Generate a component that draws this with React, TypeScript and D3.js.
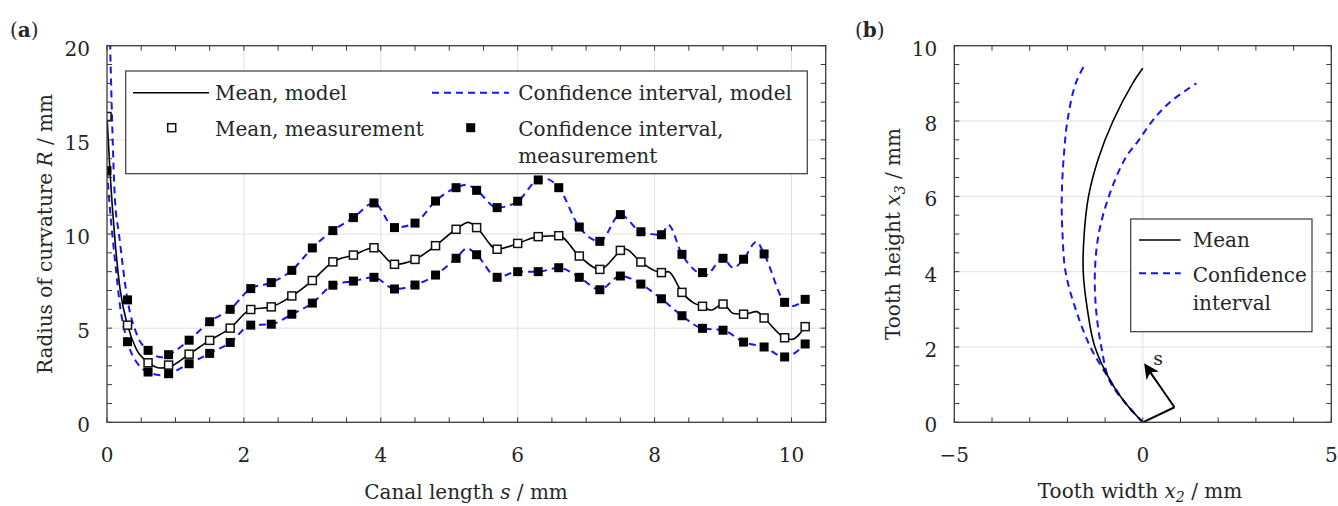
import React from 'react';
import * as d3 from 'd3';

const FONT = '"DejaVu Serif", serif';
const BLUE = '#1414ff';
const INK = '#262626';
const FRAME = '#3a3a3a';
const GRID = '#e0e0e0';

// (a) measurement positions along the canal, mm
const measS = [0, 0.3, 0.6, 0.9, 1.2, 1.5, 1.8, 2.1, 2.4, 2.7, 3.0, 3.3, 3.6, 3.9, 4.2, 4.5, 4.8,
  5.1, 5.4, 5.7, 6.0, 6.3, 6.6, 6.9, 7.2, 7.5, 7.8, 8.1, 8.4, 8.7, 9.0, 9.3, 9.6, 9.9, 10.2];
const measMean = [16.24, 5.16, 3.16, 3.04, 3.62, 4.35, 5.0, 5.99, 6.13, 6.71, 7.53, 8.52, 8.88, 9.27,
  8.39, 8.65, 9.38, 10.25, 10.34, 9.19, 9.5, 9.86, 9.91, 8.83, 8.12, 9.13, 8.51, 7.95, 6.9, 6.16,
  6.28, 5.74, 5.54, 4.49, 5.08];
const measUpper = [null, 6.5, 3.82, 3.59, 4.36, 5.34, 6.0, 7.1, 7.42, 8.07, 9.26, 10.18, 10.87, 11.65,
  10.34, 10.58, 11.75, 12.46, 12.32, 11.4, 11.74, 12.87, 12.46, 10.37, 9.61, 11.03, 10.12, 9.96,
  8.92, 7.95, 8.71, 8.66, 8.94, 6.37, 6.53];
const measLower = [13.36, 4.28, 2.67, 2.58, 3.11, 3.66, 4.24, 5.16, 5.21, 5.74, 6.33, 7.28, 7.5, 7.7,
  7.08, 7.29, 7.82, 8.71, 8.9, 7.7, 8.0, 8.0, 8.21, 7.7, 7.04, 7.77, 7.34, 6.56, 5.66, 4.99, 4.89,
  4.26, 4.0, 3.47, 4.16];

// (a) model curves
const meanModelS = [0, 0.044, 0.117, 0.19, 0.3, 0.43, 0.6, 0.78, 0.9, 1.2, 1.5, 1.8, 2.1, 2.4, 2.7,
  3.0, 3.3, 3.6, 3.9, 4.2, 4.5, 4.8, 5.1, 5.28, 5.4, 5.7, 6.0, 6.3, 6.6, 6.9, 7.2, 7.57, 7.8, 8.1,
  8.2, 8.4, 8.59, 8.7, 8.82, 9.0, 9.15, 9.3, 9.49, 9.6, 9.9, 10.0, 10.2];
const meanModelR = [16.24, 13.3, 9.66, 7.1, 5.16, 3.87, 3.2, 2.88, 2.93, 3.62, 4.35, 5.0, 5.99, 6.13,
  6.71, 7.53, 8.52, 8.88, 9.27, 8.39, 8.65, 9.38, 10.25, 10.62, 10.34, 9.19, 9.5, 9.86, 9.91, 8.83,
  8.12, 9.2, 8.51, 7.95, 8.0, 6.9, 6.3, 6.16, 5.96, 6.28, 5.78, 5.74, 5.88, 5.54, 4.49, 4.4, 5.08];
const upperModelS = [0.02, 0.044, 0.117, 0.175, 0.3, 0.45, 0.6, 0.8, 0.9, 1.2, 1.5, 1.8, 2.1, 2.4,
  2.7, 3.0, 3.3, 3.6, 3.9, 4.2, 4.5, 4.8, 5.1, 5.25, 5.4, 5.7, 6.0, 6.3, 6.42, 6.6, 6.9, 7.2, 7.5,
  7.8, 8.1, 8.2, 8.4, 8.75, 9.0, 9.15, 9.3, 9.49, 9.6, 9.9, 10.0, 10.2];
const upperModelR = [24, 20.3, 11.8, 10.0, 6.5, 4.54, 3.82, 3.45, 3.59, 4.36, 5.34, 6.0, 7.1, 7.42,
  8.07, 9.26, 10.18, 10.87, 11.65, 10.34, 10.58, 11.75, 12.46, 12.62, 12.32, 11.4, 11.74, 12.87,
  12.92, 12.46, 10.37, 9.61, 11.03, 10.12, 9.96, 10.48, 8.92, 7.83, 8.71, 8.2, 8.66, 9.59, 8.94,
  6.37, 6.16, 6.53];
const lowerModelS = [0, 0.044, 0.117, 0.19, 0.3, 0.45, 0.6, 0.8, 0.9, 1.2, 1.5, 1.8, 2.1, 2.4, 2.7,
  3.0, 3.3, 3.6, 3.9, 4.2, 4.5, 4.8, 5.1, 5.26, 5.4, 5.7, 6.0, 6.3, 6.6, 6.9, 7.2, 7.5, 7.8, 8.1,
  8.4, 8.7, 9.0, 9.3, 9.6, 9.9, 10.2];
const lowerModelR = [13.36, 11.3, 8.6, 6.2, 4.28, 3.1, 2.67, 2.5, 2.58, 3.11, 3.66, 4.24, 5.16, 5.21,
  5.74, 6.33, 7.28, 7.5, 7.7, 7.08, 7.29, 7.82, 8.71, 9.24, 8.9, 7.7, 8.0, 8.0, 8.21, 7.7, 7.04,
  7.77, 7.34, 6.56, 5.66, 4.99, 4.89, 4.26, 4.0, 3.47, 4.16];

// (b) tooth shape, mm
const meanX = [0, -0.45, -0.8, -1.27, -1.47, -1.58, -1.555, -1.44, -1.18, -0.79, -0.27, 0];
const meanY = [0, 0.5, 1.0, 2.0, 3.0, 4.0, 5.0, 6.0, 7.0, 8.0, 9.0, 9.4];
const leftX = [0, -0.43, -0.87, -1.39, -1.78, -2.05, -2.13, -2.15, -2.1, -2.0, -1.78, -1.51];
const leftY = [0, 0.47, 1.12, 2.0, 3.0, 4.0, 5.0, 6.0, 7.0, 8.0, 9.0, 9.55];
const rightX = [0, -0.45, -0.88, -1.1, -1.24, -1.27, -1.17, -0.9, -0.47, -0.1, 0.25, 0.72, 1.42];
const rightY = [0, 0.5, 1.1, 2.0, 3.0, 4.0, 5.0, 6.0, 7.0, 7.5, 8.0, 8.5, 9.0];
const arrowLegX = [0, 0.84];
const arrowLegY = [0, 0.4];
const arrowX = [0.84, 0.46, 0.08];
const arrowY = [0.4, 0.95, 1.5];
const arrowLabel = { x: 0.41, y: 1.67, text: 's' };

const zip = (a: number[], b: (number | null)[]) =>
  a.map((v, i) => [v, b[i]] as [number, number | null]).filter(d => d[1] !== null) as [number, number][];

const ax = d3.scaleLinear().domain([0, 10.5]).range([107, 825.7]);
const ay = d3.scaleLinear().domain([0, 20]).range([422.3, 45.7]);
const bx = d3.scaleLinear().domain([-5, 5]).range([954.3, 1331.3]);
const by = d3.scaleLinear().domain([0, 10]).range([422.3, 45.7]);

function Grid({ x, y, xMajor, yMajor }: any) {
  const [x0, x1] = x.range();
  const [y0, y1] = y.range();
  return (
    <g stroke={GRID} strokeWidth={1}>
      {x.ticks(xMajor).filter((t: number) => x(t) > x0 + 1 && x(t) < x1 - 1).map((t: number) => (
        <line key={'gx' + t} x1={x(t)} x2={x(t)} y1={y0} y2={y1} />
      ))}
      {y.ticks(yMajor).filter((t: number) => y(t) < y0 - 1 && y(t) > y1 + 1).map((t: number) => (
        <line key={'gy' + t} x1={x0} x2={x1} y1={y(t)} y2={y(t)} />
      ))}
    </g>
  );
}

function Frame({ x, y, xMinor, xMajor, yMinor, yMajor }: any) {
  const [x0, x1] = x.range();
  const [y0, y1] = y.range();
  const fmt = d3.format('d');
  const tl = 5;
  return (
    <g>
      <g stroke={FRAME} strokeWidth={1}>
        {x.ticks(xMinor).map((t: number) => (
          <g key={'tx' + t}>
            <line x1={x(t)} x2={x(t)} y1={y0} y2={y0 - tl} />
            <line x1={x(t)} x2={x(t)} y1={y1} y2={y1 + tl} />
          </g>
        ))}
        {y.ticks(yMinor).map((t: number) => (
          <g key={'ty' + t}>
            <line x1={x0} x2={x0 + tl} y1={y(t)} y2={y(t)} />
            <line x1={x1} x2={x1 - tl} y1={y(t)} y2={y(t)} />
          </g>
        ))}
      </g>
      <rect x={x0} y={y1} width={x1 - x0} height={y0 - y1} fill="none" stroke={FRAME} strokeWidth={1.3} />
      <g fontFamily={FONT} fontSize={20} fill={INK}>
        {x.ticks(xMajor).map((t: number) => (
          <text key={'lx' + t} x={x(t)} y={y0 + 40} textAnchor="middle">{d3.format('')(t)}</text>
        ))}
        {y.ticks(yMajor).map((t: number) => (
          <text key={'ly' + t} x={x0 - 17} y={y(t) + 10} textAnchor="end">{fmt(t)}</text>
        ))}
      </g>
    </g>
  );
}

export default function App() {
  const lineA = d3.line<[number, number]>().x(d => ax(d[0])).y(d => ay(d[1])).curve(d3.curveMonotoneX);
  const lineB = d3.line<[number, number]>().x(d => bx(d[0])).y(d => by(d[1])).curve(d3.curveCatmullRom.alpha(0.5));
  const lineStraight = d3.line<[number, number]>().x(d => bx(d[0])).y(d => by(d[1]));

  const meanPts = zip(measS, measMean);
  const upperPts = zip(measS, measUpper);
  const lowerPts = zip(measS, measLower);
  const ms = 8;
  const fs = 9;

  return (
    <svg width={1338} height={506} style={{ position: 'absolute', left: 0, top: 0, background: '#fff' }}
      fontFamily={FONT}>
      <defs>
        <clipPath id="clipA"><rect x={107} y={45.7} width={718.7} height={376.6} /></clipPath>
        <clipPath id="clipB"><rect x={954.3} y={45.7} width={377} height={376.6} /></clipPath>
        <marker id="arrowHead" viewBox="0 0 10 10" refX={8} refY={5} markerWidth={7.5} markerHeight={7.5}
          orient="auto" markerUnits="strokeWidth">
          <path d="M0,0 L10,5 L0,10 L2.5,5 Z" fill="#000" />
        </marker>
      </defs>

      {/* panel labels */}
      <text x={10} y={37} fontSize={20} fill={INK}>(<tspan fontWeight="bold">a</tspan>)</text>
      <text x={855} y={37} fontSize={20} fill={INK}>(<tspan fontWeight="bold">b</tspan>)</text>

      {/* ---------- (a) ---------- */}
      <Grid x={ax} y={ay} xMajor={5} yMajor={4} />
      <g clipPath="url(#clipA)" fill="none">
        <path d={lineA(zip(upperModelS, upperModelR)) || ''} stroke={BLUE} strokeWidth={2} strokeDasharray="7,5" />
        <path d={lineA(zip(lowerModelS, lowerModelR)) || ''} stroke={BLUE} strokeWidth={2} strokeDasharray="7,5" />
        <path d={lineA(zip(meanModelS, meanModelR)) || ''} stroke="#000" strokeWidth={1.6} />
        {upperPts.concat(lowerPts).map((d, i) => (
          <rect key={'f' + i} x={ax(d[0]) - fs / 2} y={ay(d[1]) - fs / 2} width={fs} height={fs} fill="#000" />
        ))}
        {meanPts.map((d, i) => (
          <rect key={'m' + i} x={ax(d[0]) - ms / 2} y={ay(d[1]) - ms / 2} width={ms} height={ms}
            fill="#fff" stroke="#111" strokeWidth={1.5} />
        ))}
      </g>
      <Frame x={ax} y={ay} xMinor={21} xMajor={5} yMinor={20} yMajor={4} />

      {/* legend (a) */}
      <g>
        <rect x={125.7} y={71} width={681.6} height={102.7} fill="#fff" stroke={FRAME} strokeWidth={1.2} />
        <line x1={133} x2={209} y1={92.7} y2={92.7} stroke="#000" strokeWidth={1.6} />
        <rect x={171.7 - ms / 2} y={127.7 - ms / 2} width={ms} height={ms} fill="#fff" stroke="#111" strokeWidth={1.5} />
        <line x1={432} x2={509} y1={92.7} y2={92.7} stroke={BLUE} strokeWidth={2} strokeDasharray="7,5" />
        <rect x={470.7 - fs / 2} y={127.7 - fs / 2} width={fs} height={fs} fill="#000" />
        <g fontSize={20} fill={INK}>
          <text x={215} y={100}>Mean, model</text>
          <text x={215} y={135.5}>Mean, measurement</text>
          <text x={518.3} y={100}>Confidence interval, model</text>
          <text x={518.3} y={135.5}>Confidence interval,</text>
          <text x={518.3} y={163}>measurement</text>
        </g>
      </g>

      {/* axis titles (a) */}
      <text x={466} y={499} textAnchor="middle" fontSize={20} fill={INK}>
        Canal length <tspan fontStyle="italic">s</tspan> / mm
      </text>
      <text transform="translate(52,234) rotate(-90)" textAnchor="middle" fontSize={20} fill={INK}>
        Radius of curvature <tspan fontStyle="italic">R</tspan> / mm
      </text>

      {/* ---------- (b) ---------- */}
      <Grid x={bx} y={by} xMajor={2} yMajor={5} />
      <g clipPath="url(#clipB)" fill="none">
        <path d={lineB(zip(leftX, leftY)) || ''} stroke={BLUE} strokeWidth={2} strokeDasharray="7,5" />
        <path d={lineB(zip(rightX, rightY)) || ''} stroke={BLUE} strokeWidth={2} strokeDasharray="7,5" />
        <path d={lineB(zip(meanX, meanY)) || ''} stroke="#000" strokeWidth={1.6} />
      </g>
      <g fill="none" stroke="#000" strokeWidth={2}>
        <path d={lineStraight(zip(arrowLegX, arrowLegY)) || ''} />
        <path d={lineB(zip(arrowX, arrowY)) || ''} markerEnd="url(#arrowHead)" />
      </g>
      <text x={bx(arrowLabel.x)} y={by(arrowLabel.y) + 6} textAnchor="middle" fontSize={19} fill={INK}>
        {arrowLabel.text}
      </text>
      <Frame x={bx} y={by} xMinor={10} xMajor={2} yMinor={20} yMajor={5} />

      {/* legend (b) */}
      <g>
        <rect x={1130.7} y={219} width={181.3} height={112.7} fill="#fff" stroke={FRAME} strokeWidth={1.2} />
        <line x1={1139} x2={1180.7} y1={240} y2={240} stroke="#000" strokeWidth={1.6} />
        <line x1={1139} x2={1180.7} y1={273.3} y2={273.3} stroke={BLUE} strokeWidth={2} strokeDasharray="7,5" />
        <g fontSize={20} fill={INK}>
          <text x={1192.7} y={247.3}>Mean</text>
          <text x={1192.7} y={282}>Confidence</text>
          <text x={1192.7} y={310}>interval</text>
        </g>
      </g>

      {/* axis titles (b) */}
      <text x={1140} y={498} textAnchor="middle" fontSize={20} fill={INK}>
        Tooth width <tspan fontStyle="italic">x</tspan>
        <tspan fontStyle="italic" fontSize={14} dy={4}>2</tspan>
        <tspan dy={-4}> / mm</tspan>
      </text>
      <text transform="translate(900,234) rotate(-90)" textAnchor="middle" fontSize={20} fill={INK}>
        Tooth height <tspan fontStyle="italic">x</tspan>
        <tspan fontStyle="italic" fontSize={14} dy={5}>3</tspan>
        <tspan dy={-5}> / mm</tspan>
      </text>
    </svg>
  );
}
